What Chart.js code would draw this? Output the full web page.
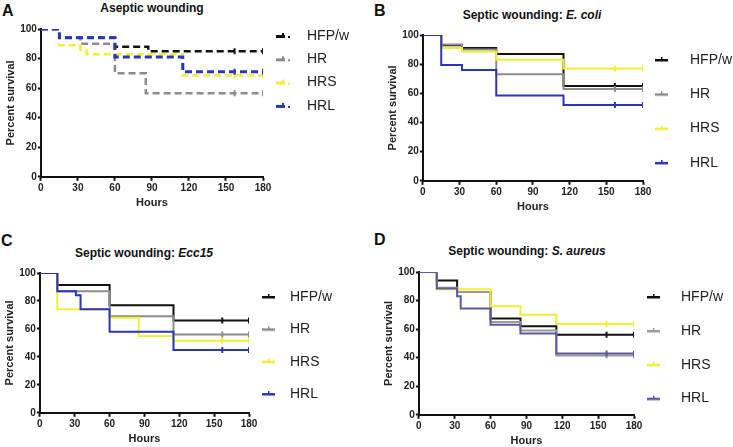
<!doctype html>
<html lang="en">
<head>
<meta charset="utf-8">
<title>Survival after wounding</title>
<script src="https://cdn.jsdelivr.net/npm/chart.js@4.4.1/dist/chart.umd.min.js"></script>
<style>
  html, body { margin: 0; padding: 0; background: #fff; overflow: hidden; }
  #page { position: relative; width: 733px; height: 447px; overflow: hidden; font-family: "Liberation Sans", Arial, sans-serif; color: #111; }
  .letter { position: absolute; font-weight: bold; font-size: 16px; line-height: 18px; }
  .ttl { position: absolute; font-weight: bold; font-size: 12px; line-height: 14px; white-space: nowrap; transform: translateX(-50%); }
  canvas { position: absolute; }
</style>
</head>
<body>
<div id="page">
  <div class="letter" style="left:2px;top:2px">A</div>
  <div class="ttl" style="left:152px;top:1px">Aseptic wounding</div>
  <canvas id="chartA" width="355" height="188" style="left:4px;top:22px"></canvas>

  <div class="letter" style="left:374px;top:2px">B</div>
  <div class="ttl" style="left:532px;top:8px">Septic wounding: <i>E. coli</i></div>
  <canvas id="chartB" width="356" height="186" style="left:386px;top:28px"></canvas>

  <div class="letter" style="left:1px;top:232px">C</div>
  <div class="ttl" style="left:144px;top:246px">Septic wounding: <i>Ecc15</i></div>
  <canvas id="chartC" width="339" height="180" style="left:3px;top:266px"></canvas>

  <div class="letter" style="left:374px;top:231px">D</div>
  <div class="ttl" style="left:527px;top:244px">Septic wounding: <i>S. aureus</i></div>
  <canvas id="chartD" width="351" height="183" style="left:382px;top:265px"></canvas>
</div>
<script>
const groups = ['HFP/w', 'HR', 'HRS', 'HRL'];
const hourTicks = [0, 30, 60, 90, 120, 150, 180];
const percentTicks = [0, 20, 40, 60, 80, 100];
const censorHours = [157, 180];

// [hours, percent survival] at each step of the curve
const asepticHFPw = [[0,100],[15,94],[60,88],[87,85],[157,85],[180,85]];
const asepticHR   = [[0,100],[15,94],[32,90],[60,70],[85,56.5],[157,56.5],[180,56.5]];
const asepticHRS  = [[0,100],[15,89],[32,86],[37,83],[115,68.5],[157,68.5],[180,68.5]];
const asepticHRL  = [[0,100],[15,94],[60,81],[115,71],[157,71],[180,71]];

const ecoliHFPw = [[0,100],[15,93],[32,91],[60,87],[115,65],[157,65],[180,65]];
const ecoliHR   = [[0,100],[15,93.5],[32,90],[60,73],[115,63],[157,63],[180,63]];
const ecoliHRS  = [[0,100],[15,91],[32,88.5],[60,83],[115,77],[157,77],[180,77]];
const ecoliHRL  = [[0,100],[15,79.5],[32,76],[60,58.5],[115,52],[157,52],[180,52]];

const eccHFPw = [[0,100],[15,91.5],[60,77],[115,66],[157,66],[180,66]];
const eccHR   = [[0,100],[15,87],[60,69],[115,56],[157,56],[180,56]];
const eccHRS  = [[0,100],[15,74],[60,68],[85,55],[115,51.5],[157,51.5],[180,51.5]];
const eccHRL  = [[0,100],[15,87],[31,84],[35,74],[60,58],[115,45],[157,45],[180,45]];

const aureusHFPw = [[0,100],[15,94],[32,86],[60,67.5],[85,62],[115,56],[157,56],[180,56]];
const aureusHR   = [[0,100],[15,89],[32,86],[60,65],[85,59],[115,41.5],[157,41.5],[180,41.5]];
const aureusHRS  = [[0,100],[15,88],[60,76],[85,70],[115,63.5],[157,63.5],[180,63.5]];
const aureusHRL  = [[0,100],[15,88.5],[32,83],[35,74.5],[60,63],[85,57],[115,43],[157,43],[180,43]];

const colours = ['#111111', '#8c8c8c', '#f2ee30', '#2b35b8'];
const coloursD = ['#111111', '#9a9a9a', '#f2ee30', '#5a5a9e'];

Chart.defaults.font.family = '"Liberation Sans", Arial, sans-serif';
Chart.defaults.color = '#222';
Chart.defaults.animation = false;

// little legend glyph: a short line with a tick in the middle
function marker(colour, dashed, w, off) {
  const c = document.createElement('canvas');
  c.width = w; c.height = 10;
  const g = c.getContext('2d');
  g.fillStyle = colour;
  if (dashed) {
    g.fillRect(off, 4, 9, 3);
    g.fillRect(off + 6, 2, 2, 4);
    g.fillRect(off + 12, 5, 2, 2);
  } else {
    g.fillRect(off, 4, 13, 2.5);
    g.fillRect(off + 6, 2, 1.5, 3);
  }
  return c;
}

function makeChart(id, curves, cols, dashed, lg) {
  const datasets = curves.map((pts, i) => ({
    label: groups[i],
    data: pts.map(p => ({ x: p[0], y: p[1] })),
    borderColor: cols[i],
    backgroundColor: cols[i],
    borderWidth: dashed ? (i === 3 ? 3 : 2.5) : 2,
    borderDash: dashed ? [7, 4] : [],
    stepped: true,
    fill: false,
    pointStyle: 'line',
    pointRotation: 90,
    pointRadius: c => (c.raw && censorHours.includes(c.raw.x)) ? 3 : 0,
    pointBorderWidth: 2,
    pointBorderColor: cols[i],
    order: 3 - i
  }));

  return new Chart(document.getElementById(id), {
    type: 'line',
    data: { datasets: datasets },
    options: {
      responsive: false,
      events: [],
      layout: { padding: 0 },
      plugins: {
        tooltip: { enabled: false },
        legend: {
          position: 'right',
          align: 'start',
          maxWidth: 200,
          title: { display: lg.titleH > 0, text: '', font: { size: 1, lineHeight: 1 }, padding: { top: Math.max(lg.titleH - 1, 0), bottom: 0 } },
          labels: {
            usePointStyle: true,
            pointStyleWidth: lg.psw,
            padding: 7,
            color: '#222',
            font: { size: 14, lineHeight: lg.lh },
            sort: (a, b) => a.datasetIndex - b.datasetIndex,
            generateLabels: chart => {
              const items = Chart.defaults.plugins.legend.labels.generateLabels(chart);
              items.forEach(it => {
                const ds = chart.data.datasets[it.datasetIndex];
                it.text = [it.text];
                it.pointStyle = marker(ds.borderColor, dashed, lg.psw, lg.off);
                it.rotation = 0;
              });
              return items;
            }
          }
        }
      },
      scales: {
        x: {
          type: 'linear', min: 0, max: 180,
          afterBuildTicks: s => { s.ticks = hourTicks.map(v => ({ value: v })); },
          grid: { drawOnChartArea: false, drawTicks: true, tickLength: 4, tickWidth: 2, tickColor: '#111' },
          border: { color: '#111', width: 2 },
          ticks: { padding: 1, color: '#222', autoSkip: false, maxRotation: 0, font: { size: 10, weight: 'bold' } },
          title: { display: true, text: 'Hours', color: '#222', font: { size: 11, weight: 'bold' }, padding: { top: 2, bottom: 0 } }
        },
        y: {
          min: 0, max: 100,
          afterBuildTicks: s => { s.ticks = percentTicks.map(v => ({ value: v })); },
          grid: { drawOnChartArea: false, drawTicks: true, tickLength: 3, tickWidth: 2, tickColor: '#111' },
          border: { color: '#111', width: 2 },
          ticks: { padding: 1, color: '#222', font: { size: 10, weight: 'bold' } },
          title: { display: true, text: 'Percent survival', color: '#222', font: { size: 11, weight: 'bold' }, padding: { top: 0, bottom: 2 } }
        }
      }
    }
  });
}

makeChart('chartA', [asepticHFPw, asepticHR, asepticHRS, asepticHRL], colours, true,
  { psw: 30, off: 6, titleH: 0, lh: 1.165 });
makeChart('chartB', [ecoliHFPw, ecoliHR, ecoliHRS, ecoliHRL], colours, false,
  { psw: 33, off: 5, titleH: 18, lh: 1.95 });
makeChart('chartC', [eccHFPw, eccHR, eccHRS, eccHRL], colours, false,
  { psw: 27, off: 6, titleH: 17, lh: 1.81 });
makeChart('chartD', [aureusHFPw, aureusHR, aureusHRS, aureusHRL], coloursD, false,
  { psw: 33, off: 6, titleH: 18, lh: 1.92 });
</script>
</body>
</html>
